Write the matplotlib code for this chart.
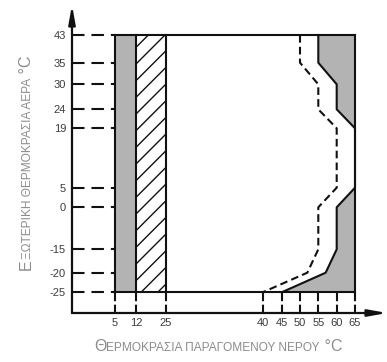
import numpy as np
import matplotlib.pyplot as plt

plt.rcParams['font.family'] = ['Liberation Sans', 'DejaVu Sans']
plt.rcParams['lines.scale_dashes'] = False
plt.rcParams['hatch.linewidth'] = 1.0

# tick values on the (schematic, non-linear) axes
x_ticks = [5, 12, 25, 40, 45, 50, 55, 60, 65]
y_ticks = [-25, -20, -15, 0, 5, 19, 24, 30, 35, 43]

# operating limits: solid = max water temp, dashed = inner limit
solid_x = [55, 55, 60, 60, 65, 65, 60, 60, 57, 45]
solid_y = [43, 35, 30, 24, 19, 5, 0, -15, -20, -25]
dash_x = [50, 50, 55, 55, 60, 60, 55, 55, 52, 40]
dash_y = [43, 35, 30, 24, 19, 5, 0, -15, -20, -25]

gray_band = (5, 12)
hatch_band = (12, 25)
x_right = 65
y_low, y_high = -25, 43

# where each tick value sits on the page (px) - the axes are not linear
x_anchor = [-10] + x_ticks + [75]
x_pos = [72, 115, 136, 166, 262.7, 281.7, 300, 318.3, 336.7, 355, 387]
y_anchor = [-35] + y_ticks + [55]
y_pos = [49, 69.7, 89.3, 112.7, 154.7, 174.3, 233.7, 252.7, 277.7, 299.3, 327, 357]

gray = '#b3b3b3'
ink = '#111111'
label_col = '#8c8c8c'

fig = plt.figure(figsize=(3.87, 3.62), dpi=100)
ax = fig.add_axes([72 / 387, 49 / 362, 315 / 387, 308 / 362])
ax.set_xscale('function', functions=(lambda v: np.interp(v, x_anchor, x_pos),
                                     lambda p: np.interp(p, x_pos, x_anchor)))
ax.set_yscale('function', functions=(lambda v: np.interp(v, y_anchor, y_pos),
                                     lambda p: np.interp(p, y_pos, y_anchor)))
ax.set_xlim(x_anchor[0], x_anchor[-1])
ax.set_ylim(y_anchor[0], y_anchor[-1])
for s in ax.spines.values():
    s.set_visible(False)
ax.patch.set_visible(False)

# shaded / hatched bands
ax.fill_betweenx([y_low, y_high], gray_band[0], gray_band[1], color=gray, lw=0)
ax.fill_betweenx([y_low, y_high], hatch_band[0], hatch_band[1], facecolor='none',
                 edgecolor=ink, hatch='//', lw=0)
ax.fill(solid_x + [x_right, x_right], solid_y + [y_low, y_high], color=gray, lw=0)

# limit curves
ax.plot(solid_x, solid_y, color=ink, lw=1.5)
ax.plot(dash_x, dash_y, color=ink, lw=1.5, dashes=(5.5, 3))

# frame
lw = 1.5
ax.plot([gray_band[0], x_right], [y_high, y_high], color=ink, lw=lw)
ax.plot([gray_band[0], x_right], [y_low, y_low], color=ink, lw=lw)
for xv in [gray_band[0], gray_band[1], hatch_band[1], x_right]:
    ax.plot([xv, xv], [y_low, y_high], color=ink, lw=lw)

# dashed guide lines to the axes
for yv in y_ticks:
    ax.plot([x_anchor[0], gray_band[0]], [yv, yv], color=ink, lw=lw, dashes=(9, 5))
for xv in x_ticks:
    ax.plot([xv, xv], [y_anchor[0], y_low], color=ink, lw=lw, dashes=(6, 2.5))

# axes with arrow heads
arrow = dict(arrowstyle='-|>,head_length=1.1,head_width=0.2', lw=1.6,
             color=ink, shrinkA=0, shrinkB=0)
ax.annotate('', xy=(1, 0), xytext=(0, 0), xycoords='axes fraction', arrowprops=arrow)
ax.annotate('', xy=(0, 1), xytext=(0, 0), xycoords='axes fraction', arrowprops=arrow)

ax.set_xticks(x_ticks)
ax.set_xticklabels([str(v) for v in x_ticks])
ax.set_yticks(y_ticks)
ax.set_yticklabels([str(v) for v in y_ticks])
ax.tick_params(axis='x', length=0, pad=3.6, labelsize=8, labelcolor='#3c3c3c')
ax.tick_params(axis='y', length=0, pad=4.3, labelsize=8, labelcolor='#3c3c3c')
ax.minorticks_off()


def small_caps(pieces, x, y, rotation):
    if rotation:
        t = fig.text(x, y, pieces[0][0], size=pieces[0][1], color=label_col,
                     rotation=90, ha='right', va='bottom')
        for s, sz in pieces[1:]:
            t = ax.annotate(s, xy=(1, 1), xycoords=t, size=sz, color=label_col,
                            rotation=90, ha='right', va='bottom')
    else:
        t = fig.text(x, y, pieces[0][0], size=pieces[0][1], color=label_col,
                     ha='left', va='bottom')
        for s, sz in pieces[1:]:
            t = ax.annotate(s, xy=(1, 0), xycoords=t, size=sz, color=label_col,
                            ha='left', va='bottom')


big, small = 11.5, 8.6
small_caps([('Θ', big), ('ΕΡΜΟΚΡΑΣΙΑ ΠΑΡΑΓΟΜΕΝΟΥ ΝΕΡΟΥ', small), (' °C', big)],
           94 / 387, 8 / 362, False)
small_caps([('Ε', big), ('ΞΩΤΕΡΙΚΗ ΘΕΡΜΟΚΡΑΣΙΑ ΑΕΡΑ', small), (' °C', big)],
           34 / 387, 92 / 362, True)

fig.savefig('out.png', dpi=100)
